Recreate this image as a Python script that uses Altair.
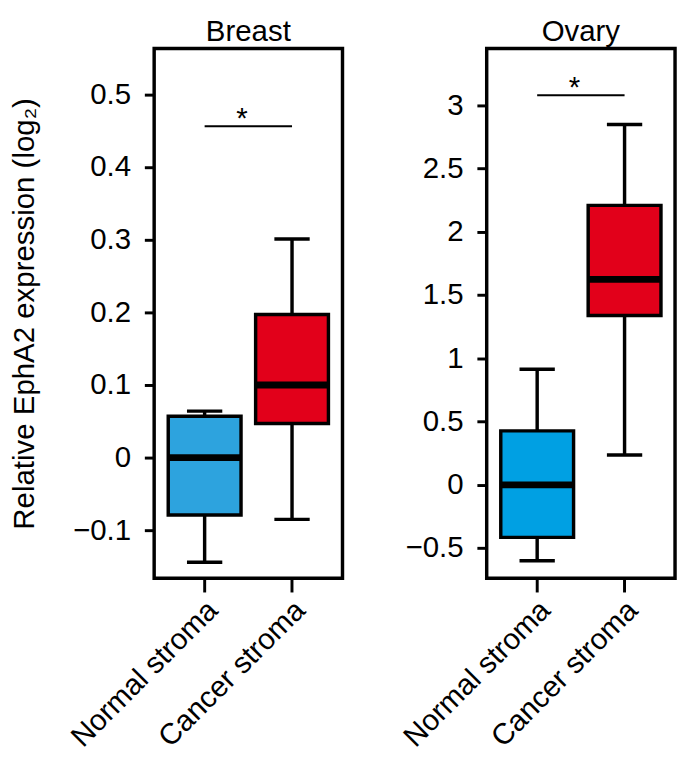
import altair as alt
import pandas as pd

categories = ["Normal stroma", "Cancer stroma"]

# Breast panel values (log2)
breast_lo = [-0.144, -0.085]
breast_q1 = [-0.079, 0.047]
breast_med = [0.0, 0.100]
breast_q3 = [0.057, 0.197]
breast_hi = [0.064, 0.301]
breast_colors = ["#2da3de", "#e2001a"]
breast_domain = [-0.166, 0.563]
breast_ticks = [-0.1, 0, 0.1, 0.2, 0.3, 0.4, 0.5]
breast_sig = 0.456

# Ovary panel values (log2)
ovary_lo = [-0.60, 0.236]
ovary_q1 = [-0.415, 1.34]
ovary_med = [0.0, 1.625]
ovary_q3 = [0.427, 2.21]
ovary_hi = [0.915, 2.85]
ovary_colors = ["#00a0e3", "#e2001a"]
ovary_domain = [-0.738, 3.45]
ovary_ticks = [-0.5, 0, 0.5, 1, 1.5, 2, 2.5, 3]
ovary_sig = 3.08

FONT = "Liberation Sans"


def panel(title, lo, q1, med, q3, hi, colors, dom, ticks, sig, ytitle):
    df = pd.DataFrame({"cat": categories, "lo": lo, "q1": q1, "med": med,
                       "q3": q3, "hi": hi, "color": colors})
    sig_df = pd.DataFrame({"cat": categories, "y": [sig, sig]})
    star_df = pd.DataFrame({"cat": [categories[0]], "y": [sig]})

    xenc = alt.X("cat:N", sort=categories,
                 scale=alt.Scale(paddingInner=0.167, paddingOuter=0.161),
                 axis=alt.Axis(title=None, labelAngle=315, labelAlign="right",
                               labelBaseline="top", labelPadding=3, labelOffset=-2,
                               tickSize=14, labelLimit=0))
    yscale = alt.Scale(domain=dom, nice=False, zero=False)
    yaxis = alt.Axis(values=ticks, format="~g", title=ytitle, tickSize=10,
                     labelPadding=14, grid=False, titlePadding=34)

    base = alt.Chart(df)
    whisk = base.mark_rule(color="black", strokeWidth=3.5).encode(
        x=xenc, y=alt.Y("lo:Q", scale=yscale, axis=yaxis), y2="hi:Q")
    box = base.mark_bar(stroke="black", strokeWidth=3.5).encode(
        x=xenc, y=alt.Y("q1:Q", scale=yscale), y2="q3:Q",
        color=alt.Color("color:N", scale=None))
    median = base.mark_tick(color="black", size=75, thickness=7, opacity=1).encode(
        x=xenc, y=alt.Y("med:Q", scale=yscale))
    cap_lo = base.mark_tick(color="black", size=36, thickness=3.5, opacity=1).encode(
        x=xenc, y=alt.Y("lo:Q", scale=yscale))
    cap_hi = base.mark_tick(color="black", size=36, thickness=3.5, opacity=1).encode(
        x=xenc, y=alt.Y("hi:Q", scale=yscale))
    sigline = alt.Chart(sig_df).mark_line(color="black", strokeWidth=2).encode(
        x=xenc, y=alt.Y("y:Q", scale=yscale))
    star = alt.Chart(star_df).mark_text(text="*", font=FONT, fontSize=30,
                                        color="black", dx=38, dy=2,
                                        baseline="alphabetic").encode(
        x=xenc, y=alt.Y("y:Q", scale=yscale))

    return alt.layer(whisk, box, median, cap_lo, cap_hi, sigline, star).properties(
        width=192, height=540,
        title=alt.TitleParams(title, fontSize=30, fontWeight="normal", font=FONT,
                              color="black", offset=2))


left = panel("Breast", breast_lo, breast_q1, breast_med, breast_q3, breast_hi,
             breast_colors, breast_domain, breast_ticks, breast_sig,
             "Relative EphA2 expression (log\u2082)")
right = panel("Ovary", ovary_lo, ovary_q1, ovary_med, ovary_q3, ovary_hi,
              ovary_colors, ovary_domain, ovary_ticks, ovary_sig, None)

chart = alt.hconcat(left, right, spacing=53).properties(
    padding={"left": 0, "top": 0, "right": 0, "bottom": 0}
).configure_view(
    stroke="black", strokeWidth=3.5
).configure_axis(
    domain=False, tickColor="black", tickWidth=3, labelColor="black",
    labelFont=FONT, labelFontSize=30, titleFont=FONT, titleFontSize=30,
    titleFontWeight="normal", titleColor="black"
)

chart.save("out.html", embed_options={"renderer": "svg", "actions": False})
